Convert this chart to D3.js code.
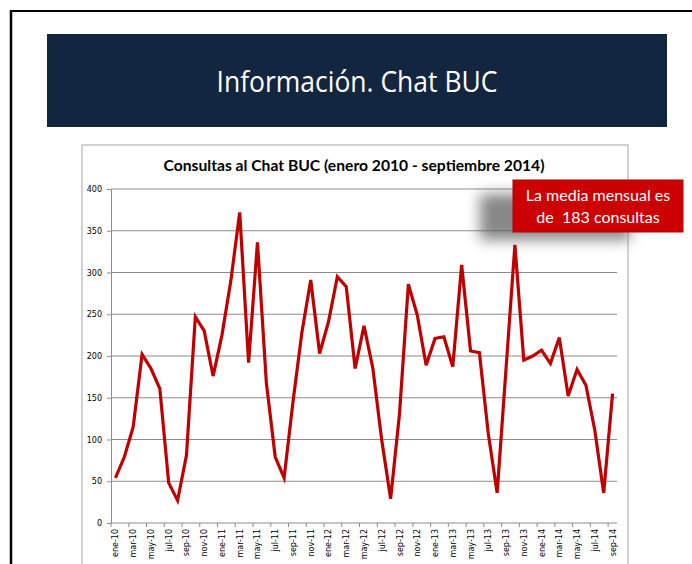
<!DOCTYPE html>
<html>
<head>
<meta charset="utf-8">
<script src="https://cdn.jsdelivr.net/npm/d3@7"></script>
<style>
  body { margin: 0; background: #fff; }
  svg { display: block; }
</style>
</head>
<body>
<div id="chart"></div>
<script>
// monthly chat queries, ene-2010 .. sep-2014
const monthNames = ["ene", "feb", "mar", "abr", "may", "jun", "jul", "ago", "sep", "oct", "nov", "dic"];
const consultas = [
  54, 79, 115, 202, 185, 161, 48, 27, 81, 247, 230, 176,
  225, 290, 372, 192, 336, 168, 79, 54, 145, 228, 291, 203,
  241, 295, 283, 185, 236, 185, 99, 29, 131, 286, 249, 189,
  221, 223, 187, 309, 206, 204, 107, 36, 185, 333, 195, 200,
  207, 191, 222, 152, 184, 165, 111, 36, 155
];
const yTicks = [0, 50, 100, 150, 200, 250, 300, 350, 400];
const slideTitle = "Información. Chat BUC";
const chartTitle = "Consultas al Chat BUC (enero 2010 - septiembre 2014)";
const calloutLines = ["La media mensual es", "de  183 consultas"];

const months = consultas.map((v, i) => {
  const y = 10 + Math.floor(i / 12);
  return { label: monthNames[i % 12] + "-" + y, value: v, i: i };
});

const width = 692, height = 564;
const svg = d3.select("#chart").append("svg")
  .attr("width", width).attr("height", height);

const defs = svg.append("defs");
defs.append("filter").attr("id", "shadow")
  .attr("x", "-50%").attr("y", "-50%").attr("width", "200%").attr("height", "200%")
  .append("feGaussianBlur").attr("stdDeviation", 7);

// slide border (top + left)
svg.append("line").attr("x1", 11).attr("x2", width).attr("y1", 11).attr("y2", 11)
  .attr("stroke", "#000").attr("stroke-width", 2);
svg.append("line").attr("x1", 11).attr("x2", 11).attr("y1", 10).attr("y2", height)
  .attr("stroke", "#000").attr("stroke-width", 2.5);

// banner
svg.append("rect").attr("x", 47).attr("y", 34).attr("width", 620).attr("height", 93)
  .attr("fill", "#13263f");
svg.append("text").attr("x", 357).attr("y", 92)
  .attr("text-anchor", "middle")
  .attr("font-family", "'Open Sans', Lato, sans-serif")
  .attr("font-size", 29).attr("fill", "#fff")
  .attr("textLength", 281).attr("lengthAdjust", "spacingAndGlyphs")
  .text(slideTitle);

// chart frame
svg.append("rect").attr("x", 82).attr("y", 145).attr("width", 546).attr("height", 440)
  .attr("fill", "#fff").attr("stroke", "#a6a6a6").attr("stroke-width", 1);

svg.append("text").attr("x", 354).attr("y", 171)
  .attr("text-anchor", "middle")
  .attr("font-family", "Lato, 'Open Sans', sans-serif")
  .attr("font-weight", "bold").attr("font-size", 15.5).attr("fill", "#000")
  .attr("textLength", 381).attr("lengthAdjust", "spacingAndGlyphs")
  .text(chartTitle);

const plot = { left: 111, right: 617, top: 189, bottom: 523 };

const x = d3.scaleBand()
  .domain(months.map(d => d.i))
  .range([plot.left, plot.right])
  .paddingInner(0).paddingOuter(0);

const y = d3.scaleLinear()
  .domain([0, 400])
  .range([plot.bottom, plot.top]);

const g = svg.append("g");

// gridlines
g.append("g").selectAll("line")
  .data(yTicks.filter(t => t > 0))
  .join("line")
  .attr("x1", plot.left).attr("x2", plot.right)
  .attr("y1", d => y(d)).attr("y2", d => y(d))
  .attr("stroke", "#8c8c8c").attr("stroke-width", 1);

// y axis
const yAxis = g.append("g")
  .attr("transform", `translate(${plot.left},0)`)
  .call(d3.axisLeft(y).tickValues(yTicks).tickSize(4).tickPadding(5));
yAxis.select(".domain").attr("stroke", "#8c8c8c");
yAxis.selectAll(".tick line").attr("stroke", "#8c8c8c");
yAxis.selectAll("text")
  .attr("font-family", "'DejaVu Sans', sans-serif")
  .attr("font-size", 8).attr("fill", "#000");

// x axis: ticks every two months, labels on the even months
const xAxisG = g.append("g").attr("transform", `translate(0,${plot.bottom})`);
xAxisG.append("line")
  .attr("x1", plot.left).attr("x2", plot.right)
  .attr("stroke", "#8c8c8c");
const tickPos = d3.range(0, months.length + 1, 2).map(i => plot.left + i * x.bandwidth());
xAxisG.selectAll(".xt").data(tickPos).join("line")
  .attr("class", "xt")
  .attr("x1", d => d).attr("x2", d => d)
  .attr("y1", 0).attr("y2", 4)
  .attr("stroke", "#8c8c8c");
xAxisG.selectAll(".xl")
  .data(months.filter(d => d.i % 2 === 0))
  .join("text")
  .attr("class", "xl")
  .attr("transform", d => `translate(${x(d.i) + x.bandwidth() / 2 + 3},6) rotate(-90)`)
  .attr("text-anchor", "end")
  .attr("font-family", "'DejaVu Sans', sans-serif")
  .attr("font-size", 8).attr("fill", "#000")
  .text(d => d.label);

// series line
const line = d3.line()
  .x(d => x(d.i) + x.bandwidth() / 2)
  .y(d => y(d.value));

g.append("path")
  .datum(months)
  .attr("d", line)
  .attr("fill", "none")
  .attr("stroke", "#c00000")
  .attr("stroke-width", 3.2)
  .attr("stroke-linejoin", "miter");

// callout with soft shadow
const callout = svg.append("g");
callout.append("rect")
  .attr("x", 480).attr("y", 194).attr("width", 150).attr("height", 46)
  .attr("fill", "#555").attr("opacity", 0.7)
  .attr("filter", "url(#shadow)");
callout.append("rect")
  .attr("x", 513).attr("y", 180).attr("width", 170).attr("height", 52)
  .attr("fill", "#cc0000").attr("stroke", "#b30000").attr("stroke-width", 1);
callout.selectAll("text").data(calloutLines).join("text")
  .attr("x", 598).attr("y", (d, i) => 201 + i * 22)
  .attr("text-anchor", "middle")
  .attr("font-family", "Lato, 'Open Sans', sans-serif")
  .attr("font-size", 16).attr("fill", "#fff")
  .attr("xml:space", "preserve")
  .style("white-space", "pre")
  .text(d => d);
</script>
</body>
</html>
